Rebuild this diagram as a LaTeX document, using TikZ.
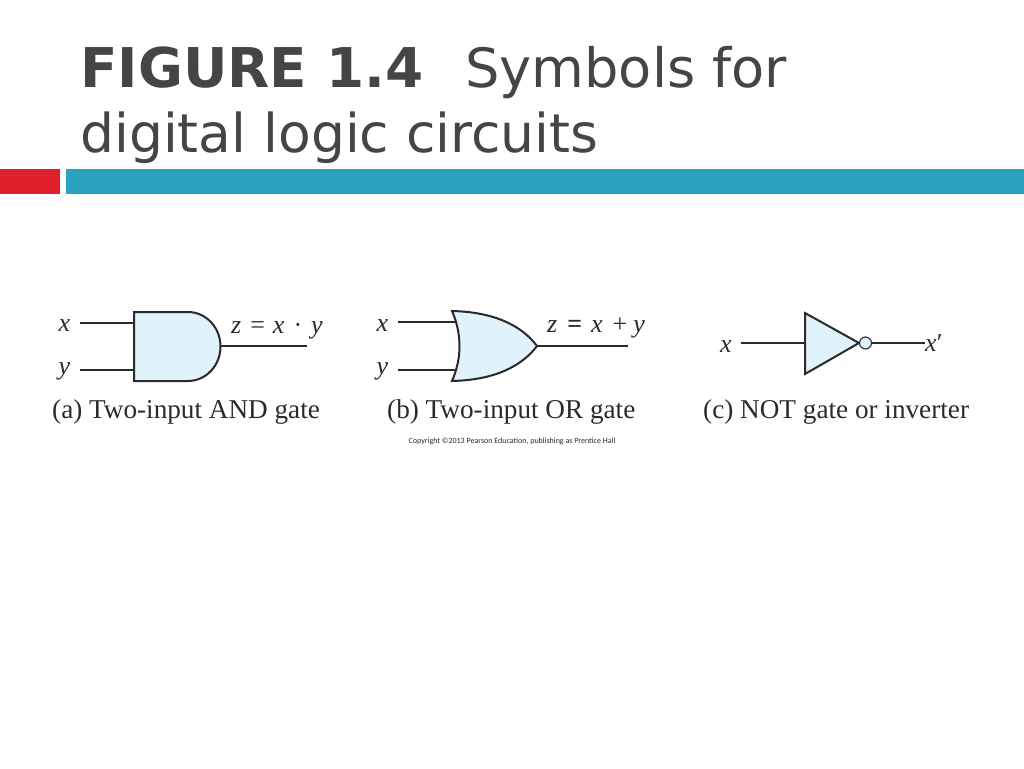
\documentclass[tikz,border=0pt]{standalone}
\usepackage{xcolor}
\usepackage{fontspec}
\setmainfont{Liberation Serif}
\newfontfamily\titlefont{DejaVu Sans}
\newfontfamily\notefont{Carlito}
\usepackage{tikz}
\usetikzlibrary{positioning, calc}
\definecolor{titlegray}{HTML}{454545}
\definecolor{barred}{HTML}{E01F2A}
\definecolor{barteal}{HTML}{2BA3BF}
\definecolor{gatefill}{HTML}{E0F2FA}
\definecolor{inkgray}{HTML}{2A2A2A}
\tikzset{
	gate/.style={draw=inkgray, fill=gatefill, line width=2pt, line join=miter},
	wire/.style={draw=inkgray, line width=1.1pt},
	sym/.style={inner sep=0pt, text=inkgray, font=\fontsize{26}{28}\selectfont},
	caption/.style={inner sep=0pt, anchor=base west, text=inkgray, font=\fontsize{27.2}{30}\selectfont},
	headline/.style={inner sep=0pt, anchor=base west, text=titlegray},
}
\begin{document}
\begin{tikzpicture}[x=1pt, y=-1pt]
	\useasboundingbox (0,0) rectangle (1024,768);
	
	% title and bars
	\node[headline, font=\titlefont\fontsize{54.8}{58}\selectfont\bfseries] (titlea) at (80,87) {FIGURE 1.4};
	\node[headline, font=\titlefont\fontsize{54.2}{58}\selectfont] (titleb) at (465,87) {Symbols for};
	\node[headline, font=\titlefont\fontsize{53.5}{58}\selectfont] (titlec) at (80,152) {digital logic circuits};
	\fill[barred] (0,169) rectangle (60,194);
	\fill[barteal] (66,169) rectangle (1024,194);
	
	% AND gate
	\draw[gate] (134,312) -- (188,312) arc (-90:90:32.5 and 34.5) -- (134,381) -- cycle;
	\coordinate (andx) at (134,323);
	\coordinate (andy) at (134,370);
	\coordinate (andz) at (220.5,346);
	\coordinate (andout) at (307,346);
	\node[sym] (xa) at (64.5,326) {\textit{x}};
	\node[sym] (ya) at (64.5,371) {\textit{y}};
	\coordinate (xastart) at (80,323);
	\coordinate (yastart) at (80,370);
	\draw[wire] (xastart) -- (andx);
	\draw[wire] (yastart) -- (andy);
	\draw[wire] (andz) -- (andout);
	\node[sym, anchor=base west] (za) at (231,333) {\textit{z}\hspace{9pt}=\hspace{8pt}\textit{x}\hspace{9pt}·\hspace{9pt}\textit{y}};
	\node[caption] (capa) at (52,418) {(a) Two-input AND gate};
	
	% OR gate
	\draw[gate] (452,311) .. controls (495,312) and (522,326) .. (537,346)
		.. controls (522,366) and (495,380) .. (452,381)
		.. controls (462,358) and (462,334) .. (452,311) -- cycle;
	\coordinate (orx) at (457,322);
	\coordinate (ory) at (457,370);
	\coordinate (orz) at (537,346);
	\coordinate (orout) at (628,346);
	\node[sym] (xb) at (382.5,326) {\textit{x}};
	\node[sym] (yb) at (382.5,371) {\textit{y}};
	\coordinate (xbstart) at (398,322);
	\coordinate (ybstart) at (398,370);
	\draw[wire] (xbstart) -- (orx);
	\draw[wire] (ybstart) -- (ory);
	\draw[wire] (orz) -- (orout);
	\node[sym, anchor=base west] (zb) at (547,332) {\textit{z}\hspace{10pt}\textbf{=}\hspace{9pt}\textit{x}\hspace{10pt}+\hspace{6pt}\textit{y}};
	\node[caption] (capb) at (387,418) {(b) Two-input OR gate};
	\node[inner sep=0pt, text=inkgray, font=\notefont\fontsize{8}{10}\selectfont] (note) at (512,441) {Copyright ©2013 Pearson Education, publishing as Prentice Hall};
	
	% NOT gate
	\draw[gate] (805,313) -- (859,343) -- (805,374) -- cycle;
	\node[circle, draw=inkgray, fill=gatefill, line width=1.1pt, minimum size=12pt, inner sep=0pt] (bubble) at (865.5,343) {};
	\coordinate (notx) at (805,343);
	\coordinate (xcstart) at (741,343);
	\coordinate (notout) at (925,343);
	\node[sym] (xc) at (726,347) {\textit{x}};
	\draw[wire] (xcstart) -- (notx);
	\draw[wire] (bubble) -- (notout);
	\node[sym, anchor=base west] (xd) at (925,351) {\textit{x}′};
	\node[caption] (capc) at (703,418) {(c) NOT gate or inverter};
\end{tikzpicture}
\end{document}
